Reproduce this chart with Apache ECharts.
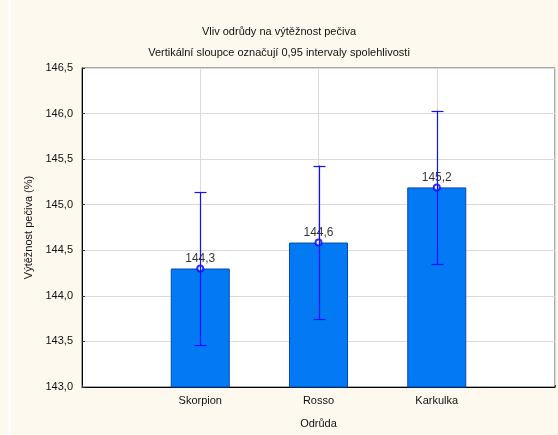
<!DOCTYPE html>
<html>
<head>
<meta charset="utf-8">
<script src="https://cdn.jsdelivr.net/npm/echarts@6/dist/echarts.min.js"></script>
<style>
html,body{margin:0;padding:0;background:#fdf9ee;}
#c{width:558px;height:435px;}
</style>
</head>
<body>
<div id="c"></div>
<script>
const categories = ['Skorpion', 'Rosso', 'Karkulka'];
const means = [144.30, 144.585, 145.19];
const lowerCI = [143.46, 143.75, 144.35];
const upperCI = [145.14, 145.43, 146.03];
const meanLabels = ['144,3', '144,6', '145,2'];
const yTicks = { min: 143.0, max: 146.5, interval: 0.5 };

const axisCats = [''].concat(categories, ['']);
const chart = echarts.init(document.getElementById('c'), null, { renderer: 'canvas' });
const font = 'Liberation Sans, Arial, sans-serif';

chart.setOption({
  backgroundColor: '#fdf9ee',
  animation: false,
  graphic: [{
    type: 'rect', shape: { x: 8, y: 0, width: 3, height: 435 },
    style: { fill: '#ffffff' }, z: -10
  }],
  title: [
    { text: 'Vliv odrůdy na výtěžnost pečiva', left: 'center', top: 21,
      textStyle: { fontFamily: font, fontSize: 11, fontWeight: 'normal', color: '#111' } },
    { text: 'Vertikální sloupce označují 0,95 intervaly spolehlivosti', left: 'center', top: 42,
      textStyle: { fontFamily: font, fontSize: 11, fontWeight: 'normal', color: '#111' } }
  ],
  grid: { left: 82, right: 1, top: 68, bottom: 48, show: true, backgroundColor: '#ffffff',
          borderColor: '#555', borderWidth: 1 },
  xAxis: {
    type: 'category', data: axisCats, boundaryGap: false,
    name: 'Odrůda', nameLocation: 'middle', nameGap: 31,
    nameTextStyle: { fontFamily: font, fontSize: 11, color: '#111' },
    axisLine: { lineStyle: { color: '#000', width: 1 } },
    axisTick: { inside: true, length: 2, lineStyle: { color: '#333' } },
    axisLabel: { fontFamily: font, fontSize: 11, color: '#111', margin: 8, interval: 0 },
    splitLine: { show: true, lineStyle: { color: '#dadada', width: 1 } }
  },
  yAxis: {
    type: 'value', min: yTicks.min, max: yTicks.max, interval: yTicks.interval,
    name: 'Výtěžnost pečiva (%)', nameLocation: 'middle', nameGap: 41,
    nameTextStyle: { fontFamily: font, fontSize: 11, color: '#111' },
    axisLine: { show: true, lineStyle: { color: '#000', width: 1 } },
    axisTick: { show: true, inside: true, length: 3, lineStyle: { color: '#333' } },
    axisLabel: { fontFamily: font, fontSize: 11, color: '#111', margin: 9,
      formatter: v => v.toFixed(1).replace('.', ',') },
    splitLine: { show: true, lineStyle: { color: '#dadada', width: 1 } }
  },
  series: [
    {
      type: 'bar', barWidth: 59,
      data: means.map((v, i) => [i + 1, v]),
      itemStyle: { color: '#0479f4', borderColor: '#0049b8', borderWidth: 1 },
      z: 2
    },
    {
      type: 'scatter', symbol: 'emptyCircle', symbolSize: 6,
      data: means.map((v, i) => [i + 1, v]),
      itemStyle: { color: '#0000ff', borderColor: '#0000ff', borderWidth: 1.3 },
      label: { show: true, position: 'top', distance: 0,
        formatter: p => meanLabels[p.dataIndex],
        fontFamily: font, fontSize: 12, color: '#000' },
      z: 3
    },
    {
      type: 'custom',
      data: means.map((v, i) => [i + 1, lowerCI[i], upperCI[i]]),
      renderItem: function (params, api) {
        const lo = api.coord([api.value(0), api.value(1)]);
        const hi = api.coord([api.value(0), api.value(2)]);
        const x = Math.round(lo[0]) + 0.5;
        const hw = 6;
        const st = { stroke: '#1010ff', lineWidth: 1.2, fill: null };
        return { type: 'group', children: [
          { type: 'line', shape: { x1: x, y1: lo[1], x2: x, y2: hi[1] }, style: st },
          { type: 'line', shape: { x1: x - hw, y1: Math.round(lo[1]) + 0.5, x2: x + hw, y2: Math.round(lo[1]) + 0.5 }, style: st },
          { type: 'line', shape: { x1: x - hw, y1: Math.round(hi[1]) + 0.5, x2: x + hw, y2: Math.round(hi[1]) + 0.5 }, style: st }
        ]};
      },
      z: 4
    }
  ]
});
</script>
</body>
</html>
